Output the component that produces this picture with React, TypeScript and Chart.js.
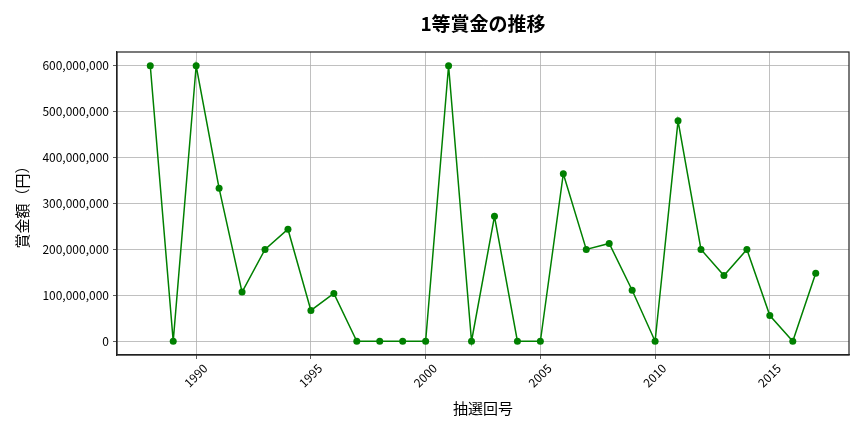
import React from "react";
import { Chart, registerables } from "chart.js";

Chart.register(...registerables);

const years = [
  1988, 1989, 1990, 1991, 1992, 1993, 1994, 1995, 1996, 1997,
  1998, 1999, 2000, 2001, 2002, 2003, 2004, 2005, 2006, 2007,
  2008, 2009, 2010, 2011, 2012, 2013, 2014, 2015, 2016, 2017,
];
const prizes = [
  600000000, 0, 600000000, 333000000, 107000000, 200000000, 244000000, 67000000, 104000000, 0,
  0, 0, 0, 600000000, 0, 272000000, 0, 0, 365000000, 200000000,
  213000000, 111000000, 0, 480000000, 200000000, 143000000, 200000000, 56000000, 0, 148000000,
];
const xTicks = [1990, 1995, 2000, 2005, 2010, 2015];
const yTicks = [0, 100000000, 200000000, 300000000, 400000000, 500000000, 600000000];

const titleText = "1等賞金の推移";
const xTitle = "抽選回号";
const yTitle = "賞金額（円）";

const FONT = "'Noto Sans CJK JP', 'Noto Sans', sans-serif";

// draws the chart title, both axis titles and the frame round the plot
const titlesPlugin = {
  id: "titles",
  afterDraw(chart: any) {
    const { ctx, chartArea } = chart;
    const cx = (chartArea.left + chartArea.right) / 2;
    const cy = (chartArea.top + chartArea.bottom) / 2;
    ctx.save();
    ctx.strokeStyle = "#222";
    ctx.lineWidth = 1.2;
    ctx.strokeRect(chartArea.left, chartArea.top, chartArea.right - chartArea.left, chartArea.bottom - chartArea.top);
    ctx.fillStyle = "#000";
    ctx.textAlign = "center";
    ctx.textBaseline = "middle";
    ctx.font = `bold 19px ${FONT}`;
    ctx.fillText(titleText, cx, 24);
    ctx.font = `15px ${FONT}`;
    ctx.fillText(xTitle, cx, 408);
    ctx.translate(22, cy);
    ctx.rotate(-Math.PI / 2);
    ctx.fillText(yTitle, 0, 0);
    ctx.restore();
  },
};

export default function App() {
  const canvasRef = React.useRef<HTMLCanvasElement | null>(null);

  React.useEffect(() => {
    document.body.style.margin = "0";
    const canvas = canvasRef.current;
    if (!canvas) return;
    const chart = new Chart(canvas, {
      type: "line",
      data: {
        datasets: [
          {
            data: years.map((y, i) => ({ x: y, y: prizes[i] })),
            borderColor: "#008000",
            backgroundColor: "#008000",
            borderWidth: 1.5,
            pointRadius: 3.5,
            pointHoverRadius: 3.5,
            pointBorderWidth: 0,
            tension: 0,
          },
        ],
      },
      options: {
        animation: false,
        responsive: false,
        maintainAspectRatio: false,
        layout: { padding: { top: 52, right: 15, left: 0, bottom: 0 } },
        plugins: {
          legend: { display: false },
          title: { display: false },
          tooltip: { enabled: false },
        },
        scales: {
          x: {
            type: "linear",
            min: 1986.55,
            max: 2018.45,
            afterBuildTicks: (scale: any) => {
              scale.ticks = xTicks.map((v) => ({ value: v }));
            },
            afterFit: (scale: any) => {
              scale.height = 77;
            },
            ticks: {
              minRotation: 45,
              maxRotation: 45,
              autoSkip: false,
              labelOffset: 9,
              padding: 2,
              color: "#000",
              font: { family: FONT, size: 12 },
              callback: (v: any) => String(v),
            },
            grid: {
              color: "#b0b0b0",
              lineWidth: 0.8,
              tickColor: "#333",
              tickLength: 4,
            },
            border: { color: "#222", width: 1.2 },
          },
          y: {
            type: "linear",
            min: -30000000,
            max: 630000000,
            afterBuildTicks: (scale: any) => {
              scale.ticks = yTicks.map((v) => ({ value: v }));
            },
            afterFit: (scale: any) => {
              scale.width = 117;
            },
            ticks: {
              padding: 4,
              color: "#000",
              font: { family: FONT, size: 12 },
              callback: (v: any) => Number(v).toLocaleString("en-US"),
            },
            grid: {
              color: "#b0b0b0",
              lineWidth: 0.8,
              tickColor: "#333",
              tickLength: 4,
            },
            border: { color: "#222", width: 1.2 },
          },
        },
      },
      plugins: [titlesPlugin],
    });
    return () => chart.destroy();
  }, []);

  return (
    <div style={{ width: 864, height: 432, position: "relative" }}>
      <canvas ref={canvasRef} width={864} height={432} style={{ width: 864, height: 432 }}></canvas>
    </div>
  );
}
